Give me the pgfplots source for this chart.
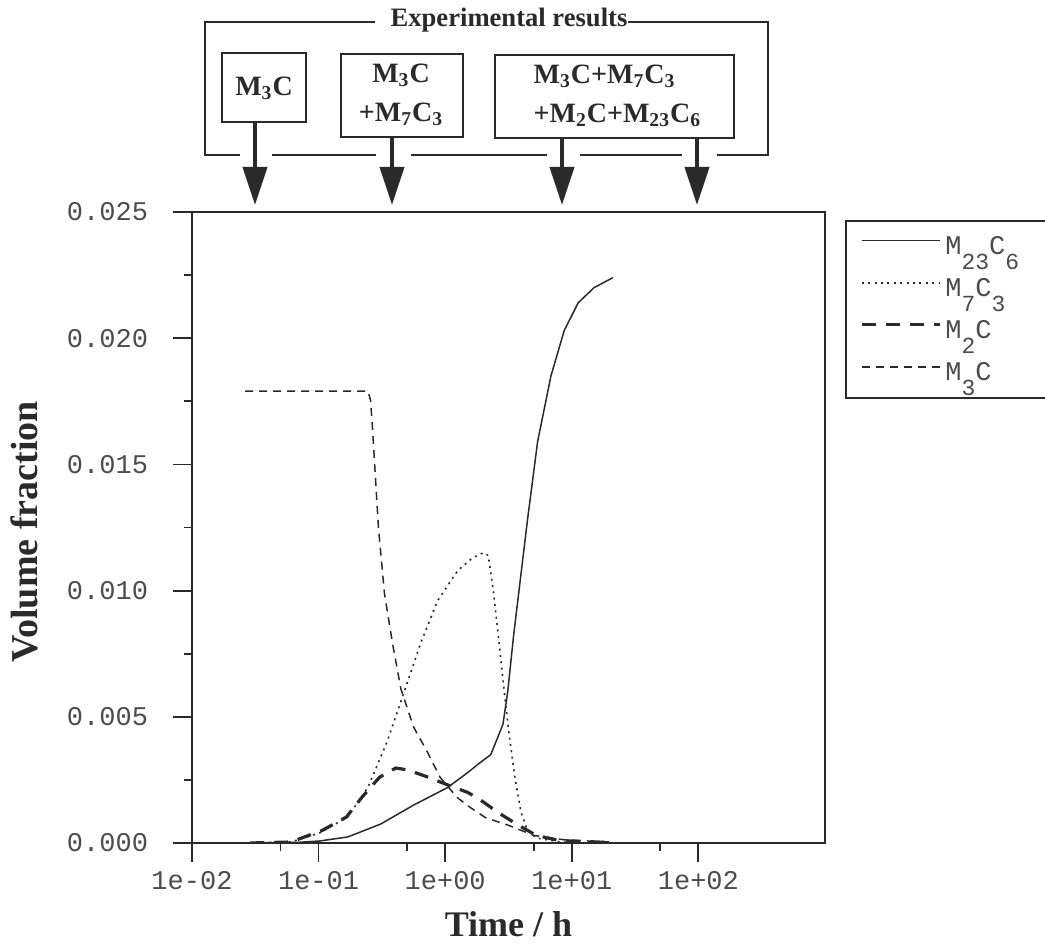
\documentclass[border=0pt]{standalone}
\usepackage{fontspec}
\setmainfont{Liberation Serif}
\setmonofont{Liberation Mono}
\usepackage{pgfplots}
\pgfplotsset{compat=1.18}
\usetikzlibrary{arrows.meta}

% lowered small digits for the Courier-style legend
\newcommand{\sub}[1]{\raisebox{-1.05ex}{\fontsize{11.5}{11.5}\selectfont #1}}
\definecolor{ink}{HTML}{2A2A2A}

\begin{document}
\begin{tikzpicture}
\path[use as bounding box] (0,0) rectangle (522.5pt,475pt);

\begin{axis}[
  at={(96pt,53.5pt)}, anchor=south west,
  scale only axis, width=316.5pt, height=315.5pt,
  xmode=log, xmin=0.01, xmax=1000, ymin=0, ymax=0.025,
  scaled y ticks=false,
  xtick={0.01,0.1,1,10,100},
  xticklabels={1e-02,1e-01,1e+00,1e+01,1e+02},
  minor xtick={0.05,0.5,5,50},
  ytick={0,0.005,0.01,0.015,0.02,0.025},
  yticklabels={0.000,0.005,0.010,0.015,0.020,0.025},
  minor ytick={0.0025,0.0075,0.0125,0.0175,0.0225},
  tick pos=left, tick align=outside,
  major tick length=9.5pt, minor tick length=4pt,
  axis line style={ink, line width=1pt},
  every tick/.style={ink, line width=0.9pt},
  ticklabel style={font=\ttfamily\fontsize{13.5}{14}\selectfont, text=black!70},
  yticklabel style={xshift=-9pt},
  xticklabel style={yshift=-1pt},
  xlabel={Time / h}, ylabel={Volume fraction},
  every axis y label/.style={at={(axis description cs:-0.264,0.493)}, rotate=90,
    anchor=center, font=\bfseries\fontsize{19}{22}\selectfont, text=ink},
  every axis x label/.style={at={(axis description cs:0.5,-0.128)}, anchor=center,
    font=\bfseries\fontsize{18}{20}\selectfont, text=ink},
  legend style={at={(axis description cs:1.032,0.987)}, anchor=north west,
    draw=ink, line width=0.9pt, font=\ttfamily\fontsize{13.5}{14}\selectfont,
    text=black!70, row sep=6.5pt, inner xsep=7pt, inner ysep=5.5pt,
    cells={anchor=west}},
  legend image code/.code={\draw[#1] (0pt,3pt) -- (39pt,3pt);},
]
% M23C6
\addplot[ink, line width=0.75pt] coordinates {
 (0.0272,0) (0.0708,0.00003) (0.102,0.00008) (0.170,0.00024) (0.309,0.00075)
 (0.562,0.0015) (1.047,0.0022) (1.514,0.0028) (1.905,0.0032) (2.291,0.0035)
 (2.858,0.0047) (3.119,0.0060) (3.467,0.0082) (4.467,0.0128) (5.370,0.0159)
 (6.839,0.0185) (8.710,0.0203) (11.22,0.0214) (14.96,0.0220) (21.13,0.0224)};
\addlegendentry{\makebox[60pt][l]{M\sub{23}C\sub{6}}}
% M7C3
\addplot[ink, line width=0.8pt, dash pattern=on 1pt off 2.2pt] coordinates {
 (0.0288,0) (0.0603,0.00004) (0.102,0.0004) (0.170,0.00103) (0.245,0.0022)
 (0.347,0.0040) (0.468,0.0059) (0.638,0.0079) (0.871,0.0096) (1.259,0.0108)
 (1.648,0.0113) (1.995,0.0115) (2.188,0.0114) (2.399,0.0100) (2.630,0.0082)
 (2.884,0.0063) (3.162,0.0045) (3.548,0.0026) (3.981,0.0012) (4.467,0.0005)
 (5.248,0.0002) (8.128,0.00004) (16.98,0)};
\addlegendentry{M\sub{7}C\sub{3}}
% M2C
\addplot[ink, line width=1.6pt, dash pattern=on 7pt off 5pt] coordinates {
 (0.0288,0) (0.0603,0.00004) (0.107,0.0005) (0.166,0.00103) (0.219,0.0018)
 (0.302,0.0026) (0.407,0.00297) (0.501,0.0029) (0.741,0.0026) (1.047,0.0023)
 (1.514,0.0020) (1.905,0.0017) (2.630,0.0012) (3.802,0.0007) (5.248,0.0003)
 (7.943,0.0001) (19.95,0.00002)};
\addlegendentry{M\sub{2}C}
% M3C
\addplot[ink, line width=0.75pt, dash pattern=on 4pt off 3pt] coordinates {
 (0.0263,0.0179) (0.2455,0.0179) (0.257,0.01755) (0.266,0.0165) (0.297,0.0125)
 (0.331,0.0099) (0.384,0.0079) (0.447,0.0061) (0.562,0.0046) (0.724,0.0036)
 (0.912,0.0026) (1.245,0.0018) (1.585,0.0014) (2.089,0.0010) (3.162,0.0007)
 (5.012,0.0003) (8.913,0.00012) (19.95,0.00004)};
\addlegendentry{M\sub{3}C}
\end{axis}

% experimental results annotation, in image pixels (origin top left)
\begin{scope}[x=0.5pt, y=-0.5pt, shift={(0pt,475pt)}, ink, line width=1pt,
  every node/.style={font=\bfseries\fontsize{14}{19.5}\selectfont, text=ink}]
  \draw (375,22) -- (205,22) -- (205,155) -- (240,155);
  \draw (272,155) -- (376,155);
  \draw (411,155) -- (547,155);
  \draw (580,155) -- (682,155);
  \draw (717,155) -- (768,155) -- (768,22) -- (628,22);
  \node[font=\bfseries\fontsize{13.3}{15}\selectfont, inner sep=0pt] at (509,20) {Experimental results};
  \draw (222,53) rectangle (306,122);
  \node at (264,88) {M\textsubscript{3}C};
  \draw (341,54) rectangle (463,137);
  \node[align=center] at (401,95) {M\textsubscript{3}C\\+M\textsubscript{7}C\textsubscript{3}};
  \draw (495,55) rectangle (734,138);
  \node[align=left, anchor=west] at (526,96)
    {M\textsubscript{3}C+M\textsubscript{7}C\textsubscript{3}\\+M\textsubscript{2}C+M\textsubscript{23}C\textsubscript{6}};
  \foreach \ax/\ay in {255/122, 392/137, 562/138, 697/138}
    \draw[line width=2pt, -{Triangle[width=12pt,length=19pt]}] (\ax,\ay) -- (\ax,205);
\end{scope}
\end{tikzpicture}
\end{document}
